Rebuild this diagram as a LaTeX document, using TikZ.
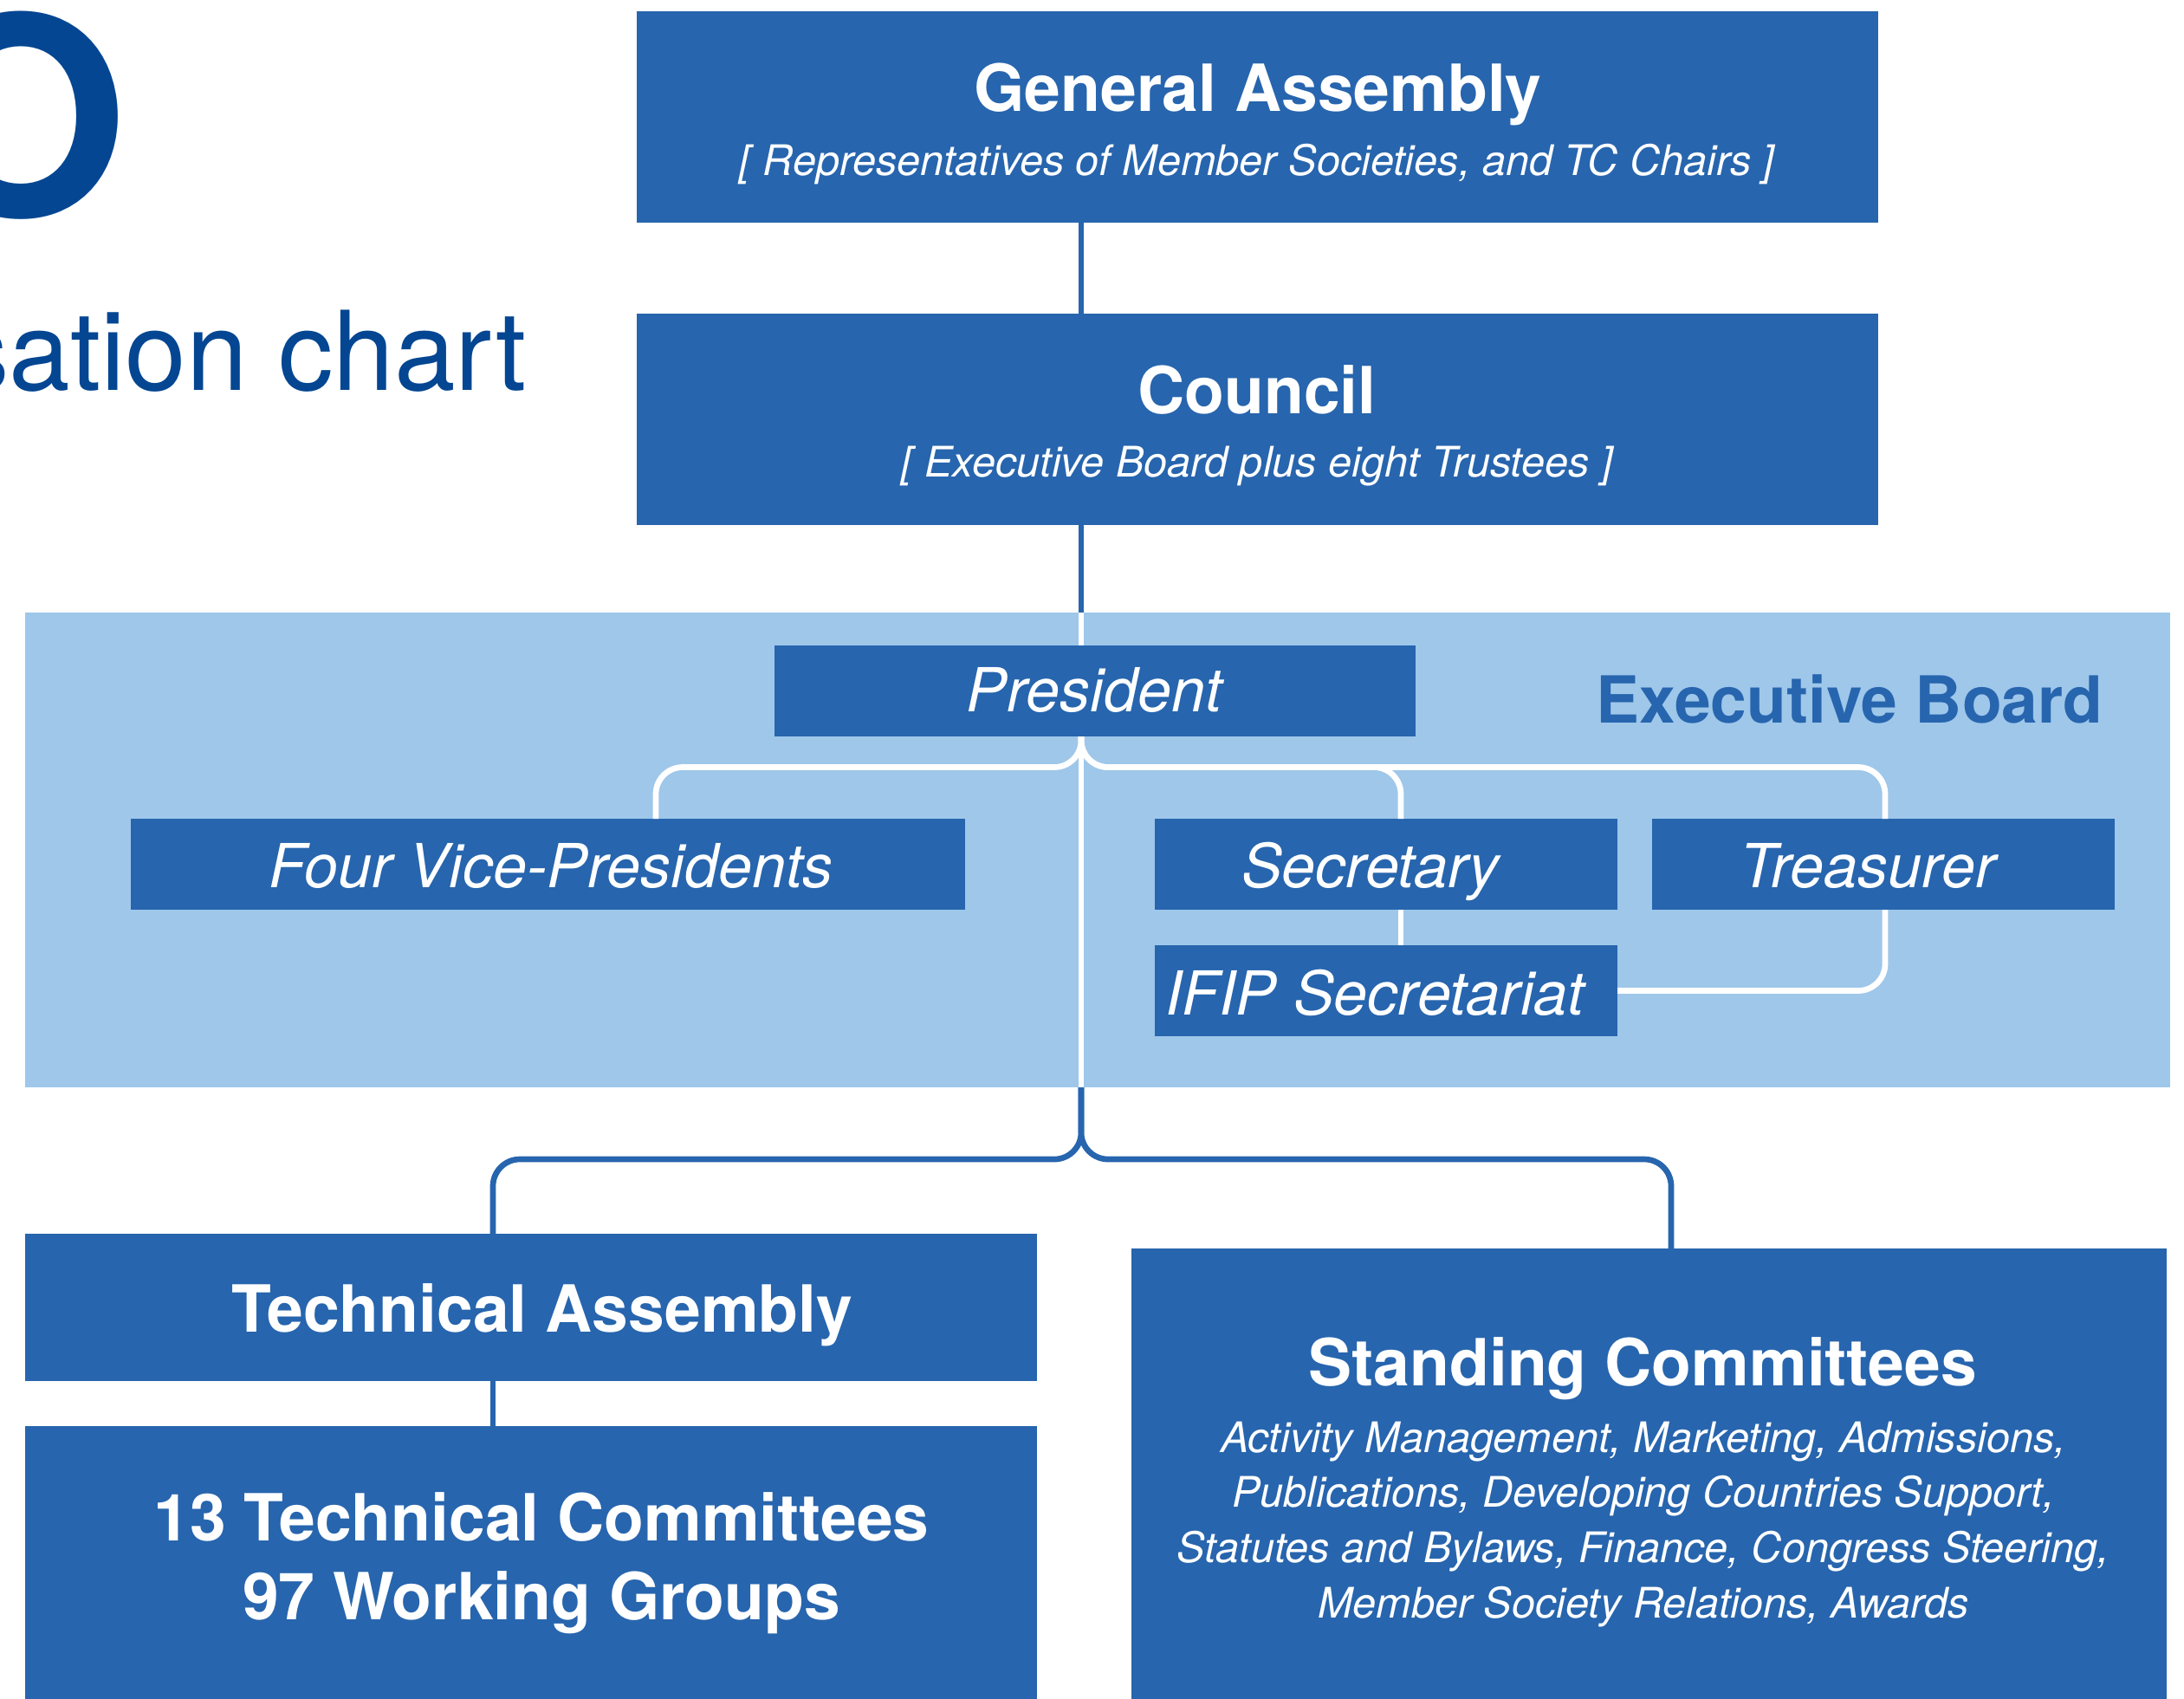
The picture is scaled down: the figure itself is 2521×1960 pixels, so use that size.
\documentclass[tikz,border=0pt]{standalone}
\usepackage{fontspec}
\setmainfont{TeX Gyre Heros}
\usetikzlibrary{fit}
\definecolor{boxblue}{RGB}{39,101,174}
\definecolor{lightblue}{RGB}{158,199,234}
\definecolor{titleblue}{RGB}{4,70,146}
\tikzset{
  box/.style={rectangle, fill=boxblue, draw=none, inner sep=0pt, outer sep=0pt},
  boardbox/.style={rectangle, fill=lightblue, draw=none, inner sep=0pt, outer sep=0pt},
  lbl/.style={anchor=base, inner sep=0pt, outer sep=0pt, text=white},
  bigtitle/.style={lbl, font=\fontsize{21.34}{25.75}\selectfont\bfseries},
  subtitle/.style={lbl, font=\fontsize{13.82}{18.12}\selectfont\itshape},
  rolelbl/.style={lbl, font=\fontsize{19.92}{24}\selectfont\itshape},
  bluelink/.style={draw=boxblue, line width=0.067cm, rounded corners=0.31cm},
  whitelink/.style={draw=white, line width=0.067cm, rounded corners=0.31cm},
}
\begin{document}
\begin{tikzpicture}[x=0.01cm, y=-0.01cm]
\useasboundingbox (0,0) rectangle (2521,1960);
\clip (0,0) rectangle (2521,1960);
\fill[white] (0,0) rectangle (2521,1960);

% page title (cut at the left edge, as in the reference)
\node[anchor=base west, inner sep=0pt, text=titleblue, font=\fontsize{90.77}{100}\selectfont\bfseries] (bigo) at (-101,249) {O};
\node[anchor=base east, inner sep=0pt, text=titleblue, font=\fontsize{36.1}{40}\selectfont] (charttitle) at (608,450) {sation chart};

% executive board background
\node[boardbox, fit={(29,707) (2505,1255)}] (board) {};

% boxes
\node[box, fit={(735,13) (2168,257)}] (ga) {};
\node[box, fit={(735,362) (2168,606)}] (council) {};
\node[box, fit={(894,745) (1634,850)}] (pres) {};
\node[box, fit={(151,945) (1114,1050)}] (vp) {};
\node[box, fit={(1333,945) (1867,1050)}] (sec) {};
\node[box, fit={(1907,945) (2441,1050)}] (tre) {};
\node[box, fit={(1333,1091) (1867,1196)}] (ifip) {};
\node[box, fit={(29,1424) (1197,1594)}] (ta) {};
\node[box, fit={(29,1646) (1197,1990)}] (tc) {};
\node[box, fit={(1306,1441) (2501,1990)}] (sc) {};

% texts
\node[bigtitle] (gat) at (1452,128.5) {General Assembly};
\node[subtitle] (gas) at (1451,202) {[ Representatives of Member Societies, and TC Chairs ]};
\node[bigtitle] (cot) at (1451,477.6) {Council};
\node[subtitle] (cos) at (1451,550.6) {[ Executive Board plus eight Trustees ]};
\node[rolelbl] (prest) at (1263,821) {President};
\node[lbl, text=boxblue, font=\fontsize{21.3}{25}\selectfont\bfseries] (ebt) at (2135,834) {Executive Board};
\node[rolelbl] (vpt) at (636,1024) {Four Vice-Presidents};
\node[rolelbl] (sect) at (1582,1024) {Secretary};
\node[rolelbl] (tret) at (2156,1024) {Treasurer};
\node[rolelbl] (ifipt) at (1587,1171) {IFIP Secretariat};
\node[bigtitle] (tat) at (626,1537) {Technical Assembly};
\node[bigtitle] (tct1) at (625,1778.5) {13 Technical Committees};
\node[bigtitle] (tct2) at (625,1869) {97 Working Groups};
\node[bigtitle] (sct) at (1896,1599) {Standing Committees};
\node[subtitle] (scs1) at (1897,1676) {Activity Management, Marketing, Admissions,};
\node[subtitle] (scs2) at (1897,1739) {Publications, Developing Countries Support,};
\node[subtitle] (scs3) at (1897,1803) {Statutes and Bylaws, Finance, Congress Steering,};
\node[subtitle] (scs4) at (1897,1867) {Member Society Relations, Awards};

% helper coordinates
\coordinate (spine) at (1248,0);
\coordinate (ebbar) at (0,885.5);
\coordinate (vpx) at (757,0);
\coordinate (secx) at (1617,0);
\coordinate (trex) at (2176,0);
\coordinate (lowbar) at (0,1338);
\coordinate (tax) at (569,0);
\coordinate (scx) at (1929,0);

% blue connectors
\draw[bluelink] (ga.south -| spine) -- (council.north -| spine);
\draw[bluelink] (council.south -| spine) -- (board.north -| spine);
\draw[bluelink] (board.south -| spine) -- (spine |- lowbar) -- (tax |- lowbar) -- (ta.north -| tax);
\draw[bluelink] (board.south -| spine) -- (spine |- lowbar) -- (scx |- lowbar) -- (sc.north -| scx);
\draw[bluelink] (ta.south -| tax) -- (tc.north -| tax);

% white connectors inside the executive board
\draw[whitelink] (board.north -| spine) -- (pres.north -| spine);
\draw[whitelink] (pres.south -| spine) -- (board.south -| spine);
\draw[whitelink] (pres.south -| spine) -- (spine |- ebbar) -- (vpx |- ebbar) -- (vp.north -| vpx);
\draw[whitelink] (pres.south -| spine) -- (spine |- ebbar) -- (secx |- ebbar) -- (sec.north -| secx);
\draw[whitelink] (pres.south -| spine) -- (spine |- ebbar) -- (trex |- ebbar) -- (tre.north -| trex);
\draw[whitelink] (sec.south -| secx) -- (ifip.north -| secx);
\draw[whitelink] (tre.south -| trex) |- (ifip.east);
\end{tikzpicture}
\end{document}
